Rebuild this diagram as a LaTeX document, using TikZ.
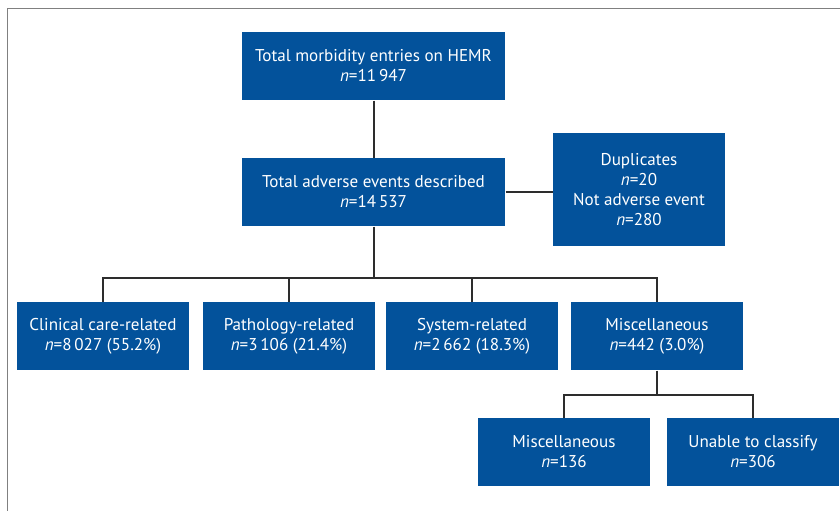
\documentclass[tikz,border=0pt]{standalone}
\usepackage{fontspec}
\setmainfont{PT Sans}
\definecolor{boxblue}{RGB}{3,82,155}
\definecolor{linkgray}{RGB}{45,45,45}
\definecolor{framegray}{RGB}{128,128,128}

\tikzset{every picture/.style={line width=0.75pt}}
\tikzset{
  flowbox/.style={fill=boxblue, text=white, align=center, inner sep=0pt,
    minimum width=172*0.75pt, minimum height=68*0.75pt,
    font=\fontsize{12.8pt}{15pt}\selectfont},
  widebox/.style={flowbox, minimum width=263*0.75pt},
  link/.style={draw=linkgray, line width=1.5pt}
}

\begin{document}
\begin{tikzpicture}[x=0.75pt,y=0.75pt,yscale=-1,xscale=1]
\useasboundingbox (0,0) rectangle (840,511);

%Frame
\draw [color=framegray, line width=1pt] (7.5,511) -- (7.5,8.5) -- (840,8.5) ;

% Top boxes
\node [widebox] (total) at (373.5,66) {Total morbidity entries on HEMR\\\textit{n}=11\,947};
\node [widebox] (adverse) at (373.5,192) {Total adverse events described\\\textit{n}=14\,537};
\node [flowbox, minimum height=113*0.75pt] (excluded) at (639,189.5) {Duplicates\\\textit{n}=20\\Not adverse event\\\textit{n}=280};

% Categories
\node [flowbox] (clinical) at (103,336) {Clinical care-related\\\textit{n}=8\,027 (55.2\%)};
\node [flowbox] (pathology) at (289,336) {Pathology-related\\\textit{n}=3\,106 (21.4\%)};
\node [flowbox] (system) at (472,336) {System-related\\\textit{n}=2\,662 (18.3\%)};
\node [flowbox] (misc) at (657,336) {Miscellaneous\\\textit{n}=442 (3.0\%)};

% Miscellaneous split
\node [flowbox] (miscother) at (564,452) {Miscellaneous\\\textit{n}=136};
\node [flowbox] (unclass) at (753,452) {Unable to classify\\\textit{n}=306};

% Junctions
\coordinate (split) at (373.5,278);
\coordinate (miscsplit) at (657,395);

% Connectors
\draw [link] (total) -- (adverse);
\draw [link] (adverse.east) -- (excluded.west |- adverse.east);
\draw [link] (adverse) -- (split);
\draw [link] (clinical.north) |- (split) -| (misc.north);
\draw [link] (pathology.north) -- (pathology.north |- split);
\draw [link] (system.north) -- (system.north |- split);
\draw [link] (misc) -- (miscsplit);
\draw [link] (miscother.north) |- (miscsplit) -| (unclass.north);

\end{tikzpicture}
\end{document}
